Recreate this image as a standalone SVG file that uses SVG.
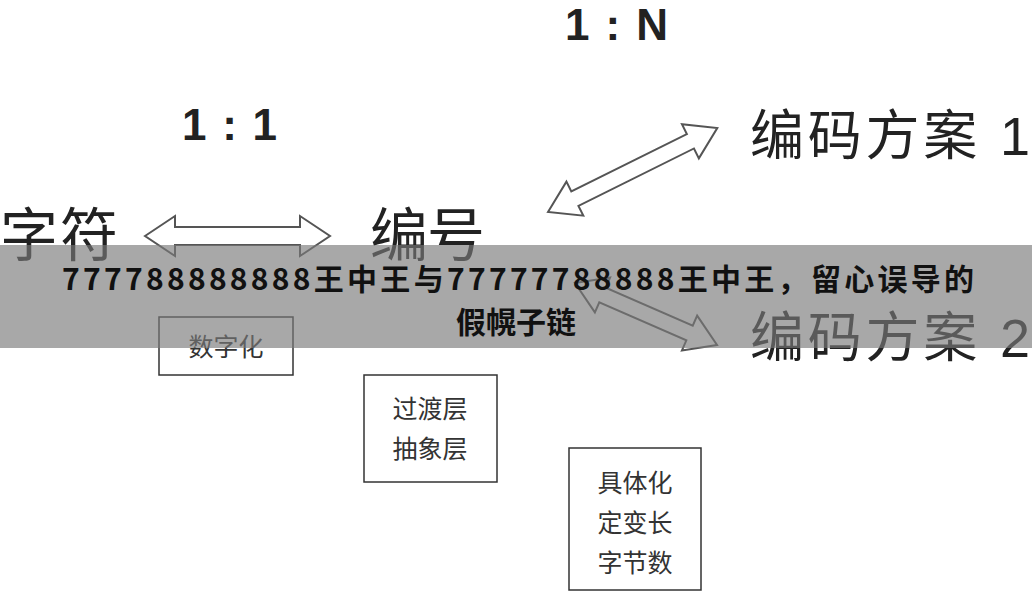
<svg xmlns="http://www.w3.org/2000/svg" width="1032" height="594" viewBox="0 0 1032 594">
<style>
.t{font-family:"Liberation Sans","Noto Sans CJK SC",sans-serif;fill:#222}
.b{font-weight:bold}
.box{fill:#fff;stroke:#333;stroke-width:1.5}
.ar{fill:#fff;stroke:#555;stroke-width:2}
.bx{font-family:"Noto Sans CJK SC",sans-serif;font-size:25px;fill:#333}
</style>
<rect width="1032" height="594" fill="#fff"/>
<text class="t b" x="565" y="40" font-size="44" textLength="103">1 : N</text>
<text class="t b" x="182" y="140" font-size="44" textLength="95">1 : 1</text>
<text class="t" x="750" y="155" font-size="54" textLength="280">编码方案 1</text>
<text class="t" x="750" y="357" font-size="54" textLength="280">编码方案 2</text>
<text class="t" x="0" y="256" font-size="58" textLength="118">字符</text>
<text class="t" x="370" y="256" font-size="58" textLength="115">编号</text>
<g id="connectors">
<polygon class="ar" points="145,236 175,216 175,227 300,227 300,216 330,236 300,256 300,245 175,245 175,256"/>
<polygon class="ar" transform="translate(548,212) rotate(-26.4)" points="0,0 30,-19 30,-8 159,-8 159,-19 189,0 159,19 159,8 30,8 30,19"/>
<polygon class="ar" transform="translate(575,283) rotate(23.6)" points="0,0 30,-19 30,-8 125,-8 125,-19 155,0 125,19 125,8 30,8 30,19"/>
</g>
<g id="n1"><rect class="box" x="159" y="317" width="134" height="58"/><text class="bx" x="226" y="356" text-anchor="middle">数字化</text></g>
<g id="n2"><rect class="box" x="364" y="375" width="133" height="107"/><text class="bx" x="430" y="418" text-anchor="middle">过渡层</text><text class="bx" x="430" y="458" text-anchor="middle">抽象层</text></g>
<g id="n3"><rect class="box" x="569" y="448" width="132" height="142"/><text class="bx" x="635" y="492" text-anchor="middle">具体化</text><text class="bx" x="635" y="532" text-anchor="middle">定变长</text><text class="bx" x="635" y="572" text-anchor="middle">字节数</text></g>
<g id="banner">
<rect x="0" y="245" width="1032" height="103" fill="#7a7a7a" fill-opacity="0.65"/>
<text x="62" y="290" textLength="912" font-size="30" font-weight="bold" font-family="Noto Sans CJK SC,sans-serif" fill="#111">777788888888王中王与77777788888王中王，留心误导的</text>
<text x="516" y="333" text-anchor="middle" font-size="30" font-weight="bold" font-family="Noto Sans CJK SC,sans-serif" fill="#111">假幌子链</text>
</g>
</svg>
